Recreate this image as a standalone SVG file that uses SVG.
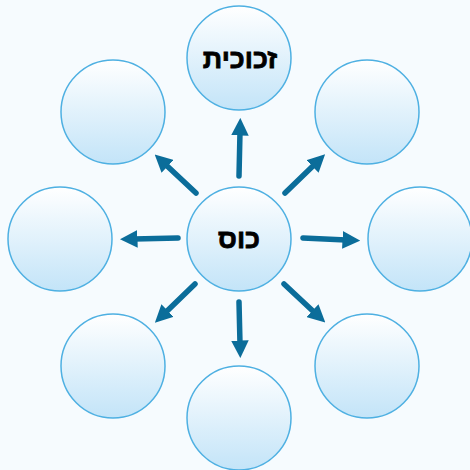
<svg xmlns="http://www.w3.org/2000/svg" width="470" height="470" viewBox="0 0 470 470">
<defs>
<linearGradient id="g" x1="0" y1="0" x2="0" y2="1">
<stop offset="0" stop-color="#ffffff"/>
<stop offset="1" stop-color="#c3e4f8"/>
</linearGradient>
<marker id="ah" viewBox="0 0 10 10" refX="2" refY="5" markerWidth="3.2" markerHeight="3.2" orient="auto" markerUnits="strokeWidth">
<path d="M0,0 L10,5 L0,10 Z" fill="#0b6d9a"/>
</marker>
<style>
.n{fill:url(#g);stroke:#4eb0e2;stroke-width:1.5}
.c line{stroke:#0b6d9a;stroke-width:5.5;stroke-linecap:round;marker-end:url(#ah)}
.t{font-family:"Liberation Sans","DejaVu Sans",sans-serif;font-weight:bold;font-size:27px;fill:#000;stroke:#000;stroke-width:0.8;text-anchor:middle}
</style>
</defs>
<rect width="470" height="470" fill="#f6fbfe"/>
<g class="c">
<line x1="239" y1="176" x2="240" y2="132"/>
<line x1="239" y1="302" x2="240" y2="344"/>
<line x1="178" y1="238" x2="134" y2="239"/>
<line x1="303" y1="238" x2="346" y2="240"/>
<line x1="285" y1="193" x2="315" y2="164"/>
<line x1="196" y1="193" x2="165" y2="164"/>
<line x1="195" y1="284" x2="165" y2="313"/>
<line x1="284" y1="284" x2="315" y2="313"/>
</g>
<g id="center"><circle class="n" cx="239" cy="239" r="52"/><text class="t" x="239" y="248">כוס</text></g>
<g id="top"><circle class="n" cx="239" cy="58" r="52"/><text class="t" x="240" y="68">זכוכית</text></g>
<g id="bottom"><circle class="n" cx="239" cy="418" r="52"/></g>
<g id="left"><circle class="n" cx="60" cy="239" r="52"/></g>
<g id="right"><circle class="n" cx="420" cy="239" r="52"/></g>
<g id="topleft"><circle class="n" cx="113" cy="112" r="52"/></g>
<g id="topright"><circle class="n" cx="367" cy="112" r="52"/></g>
<g id="bottomleft"><circle class="n" cx="113" cy="366" r="52"/></g>
<g id="bottomright"><circle class="n" cx="367" cy="366" r="52"/></g>
</svg>
